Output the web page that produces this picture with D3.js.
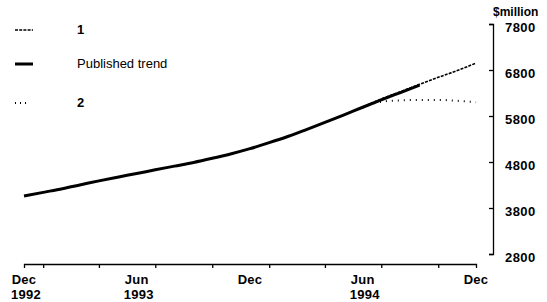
<!DOCTYPE html>
<html>
<head>
<meta charset="utf-8">
<script src="https://cdn.jsdelivr.net/npm/d3@7"></script>
<style>
  body { margin: 0; background: #fff; }
  text { font-family: "Liberation Sans", Arial, sans-serif; fill: #000; }
</style>
</head>
<body>
<div id="chart"></div>
<script>
// Monthly data, Dec 1992 - Dec 1994 ($million)
const trendMonths = ["1992-12","1993-01","1993-02","1993-03","1993-04","1993-05","1993-06","1993-07",
  "1993-08","1993-09","1993-10","1993-11","1993-12","1994-01","1994-02","1994-03","1994-04","1994-05",
  "1994-06","1994-07","1994-08","1994-09"];
const trendValues = [4060,4140,4220,4300,4390,4470,4550,4630,4710,4790,4880,4980,5090,5220,5360,5500,
  5660,5820,5990,6150,6310,6470];

const forecastMonths = ["1994-06","1994-07","1994-08","1994-09","1994-10","1994-11","1994-12"];
const series1Values = [5990,6170,6330,6490,6640,6790,6950];
const series2Values = [5990,6110,6140,6150,6150,6130,6100];

const yTicks = [2800,3800,4800,5800,6800,7800];
const xLabels = [["1992-12","Dec","1992"],["1993-06","Jun","1993"],["1993-12","Dec",""],
  ["1994-06","Jun","1994"],["1994-12","Dec",""]];
const legendItems = [["1","series1"],["Published trend","trend"],["2","series2"]];

const width = 547, height = 302;
const parse = s => { const [y, m] = s.split("-").map(Number); return new Date(Date.UTC(y, m - 1, 1)); };

const svg = d3.select("#chart").append("svg")
  .attr("width", width).attr("height", height);

const x = d3.scaleUtc()
  .domain([parse("1992-12"), parse("1994-12")])
  .range([24, 476]);
const y = d3.scaleLinear()
  .domain([2800, 7800])
  .range([254, 24]);

// x axis: ticks each quarter
const xAxis = svg.append("g")
  .attr("transform", "translate(0,264)")
  .call(d3.axisBottom(x)
    .tickValues(d3.utcMonth.every(3).range(parse("1992-12"), parse("1995-01")))
    .tickSizeInner(4).tickSizeOuter(4)
    .tickFormat(() => ""));
xAxis.selectAll("path, line").attr("stroke", "#000").attr("stroke-width", 1.3);

xLabels.forEach(([m, mon, yr]) => {
  const t = svg.append("text")
    .attr("x", x(parse(m)))
    .attr("text-anchor", "middle")
    .style("font-size", "13px").style("font-weight", "bold").style("letter-spacing", "0.3px");
  t.append("tspan").attr("x", x(parse(m))).attr("y", 284).text(mon);
  if (yr) t.append("tspan").attr("x", x(parse(m)) + 2).attr("y", 299).text(yr);
});

// y axis on the right, ticks pointing in
const yAxis = svg.append("g")
  .attr("transform", "translate(493,0)")
  .call(d3.axisRight(y)
    .tickValues(yTicks)
    .tickSizeInner(-4).tickSizeOuter(-4)
    .tickPadding(12)
    .tickFormat(d3.format("d")));
yAxis.selectAll("path, line").attr("stroke", "#000").attr("stroke-width", 1.3);
yAxis.selectAll("text")
  .attr("dy", "0.55em")
  .style("font-size", "13px").style("font-weight", "bold").style("letter-spacing", "0.4px")
  .style("font-family", "'Liberation Sans', Arial, sans-serif").attr("fill", "#000");

svg.append("text")
  .attr("x", 493).attr("y", 16)
  .style("font-size", "12px").style("font-weight", "bold")
  .text("$million");

// lines
const line = d3.line()
  .curve(d3.curveMonotoneX)
  .x(d => x(parse(d[0])))
  .y(d => y(d[1]));

const styles = {
  trend: { width: 3, dash: null },
  series1: { width: 1.6, dash: "3,1.2" },
  series2: { width: 2, dash: "1,5" }
};

svg.append("path")
  .datum(forecastMonths.map((m, i) => [m, series2Values[i]]))
  .attr("d", line).attr("fill", "none").attr("stroke", "#000")
  .attr("stroke-width", styles.series2.width).attr("stroke-dasharray", styles.series2.dash);

svg.append("path")
  .datum(trendMonths.map((m, i) => [m, trendValues[i]]))
  .attr("d", line).attr("fill", "none").attr("stroke", "#000")
  .attr("stroke-width", styles.trend.width);

svg.append("path")
  .datum(forecastMonths.map((m, i) => [m, series1Values[i]]))
  .attr("d", line).attr("fill", "none").attr("stroke", "#000")
  .attr("stroke-width", styles.series1.width).attr("stroke-dasharray", styles.series1.dash);

// legend
const legendY = [30, 64, 103];
legendItems.forEach(([label, key], i) => {
  const st = styles[key];
  svg.append("line")
    .attr("x1", 15).attr("x2", key === "series2" ? 29 : 33)
    .attr("y1", legendY[i]).attr("y2", legendY[i])
    .attr("stroke", "#000").attr("stroke-width", st.width)
    .attr("stroke-dasharray", key === "series2" ? "1,4" : st.dash);
  svg.append("text")
    .attr("x", 77).attr("y", legendY[i] + 4)
    .style("font-size", "13px")
    .style("font-weight", key === "trend" ? "normal" : "bold")
    .text(label);
});
</script>
</body>
</html>
